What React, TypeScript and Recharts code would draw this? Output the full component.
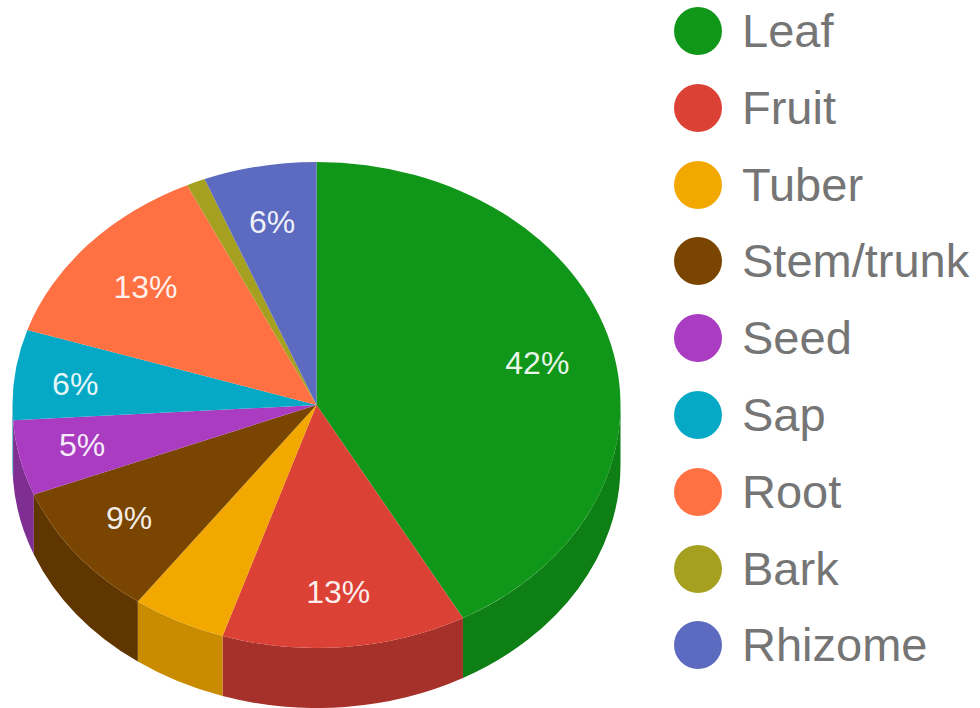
import React from "react";
import { PieChart, Pie, Cell, Legend } from "recharts";

const categories = ["Leaf", "Fruit", "Tuber", "Stem/trunk", "Seed", "Sap", "Root", "Bark", "Rhizome"];
const values = [42, 13, 5, 9, 5, 6, 13, 1, 6];
const sliceLabels = ["42%", "13%", "", "9%", "5%", "6%", "13%", "", "6%"];
const colors = ["#109618", "#DC4135", "#F3A800", "#7A4500", "#A93CC0", "#05A9C5", "#FF7043", "#A5A020", "#5C6BC0"];
const wallColors = ["#0D7F14", "#A5312A", "#C98C00", "#5F3600", "#7F2E91", "#0480A0", "#BF5432", "#7C7818", "#454F90"];

const data = categories.map((name, i) => ({ name, value: values[i], fill: colors[i] }));

const W = 980, H = 708;
const CX = 316.5, CY = 405, RX = 304;
const SQUASH = 243 / 304;
const DEPTH = 60;
const LABEL_RADIAL = [0.75, 0.76, 0.75, 0.78, 0.79, 0.8, 0.75, 0.75, 0.78];
const LABEL_DY = [3, 3, 3, -3, -2, 3, 3, 3, 3];

const pt = (p: any, deg: number, dy = 0) => {
  const t = (deg * Math.PI) / 180;
  return [p.cx + p.outerRadius * Math.cos(t), p.cy + p.outerRadius * SQUASH * Math.sin(t) + dy];
};

const TopSlice = (p: any) => {
  const a = -p.startAngle, b = -p.endAngle;
  const [x1, y1] = pt(p, a);
  const [x2, y2] = pt(p, b);
  const rx = p.outerRadius, ry = rx * SQUASH;
  const large = b - a > 180 ? 1 : 0;
  return <path d={`M${p.cx} ${p.cy}L${x1} ${y1}A${rx} ${ry} 0 ${large} 1 ${x2} ${y2}Z`} fill={colors[p.index ?? 0]} stroke="none" />;
};

const WallSlice = (p: any) => {
  const a = Math.max(-p.startAngle, 0), b = Math.min(-p.endAngle, 180);
  if (b <= a) return <g />;
  const [x1, y1] = pt(p, a);
  const [x2, y2] = pt(p, b);
  const [x3, y3] = pt(p, b, DEPTH);
  const [x4, y4] = pt(p, a, DEPTH);
  const rx = p.outerRadius, ry = rx * SQUASH;
  return <path d={`M${x1} ${y1}A${rx} ${ry} 0 0 1 ${x2} ${y2}L${x3} ${y3}A${rx} ${ry} 0 0 0 ${x4} ${y4}Z`} fill={wallColors[p.index ?? 0]} stroke="none" />;
};

const SliceLabel = (p: any) => {
  const text = sliceLabels[p.index];
  if (!text) return null;
  const t = (-p.midAngle * Math.PI) / 180;
  const r = p.outerRadius * LABEL_RADIAL[p.index];
  return (
    <text x={p.cx + r * Math.cos(t)} y={p.cy + r * SQUASH * Math.sin(t) + LABEL_DY[p.index]} fill="#fff" fillOpacity={0.92} fontSize={32} fontFamily="Liberation Sans, Arial, sans-serif" textAnchor="middle" dominantBaseline="central">
      {text}
    </text>
  );
};

const LegendBox = () => (
  <div style={{ position: "relative", width: 306, height: 700 }}>
    {data.map((d, i) => (
      <div key={d.name} style={{ position: "absolute", left: 0, top: i * 76.8, height: 62, display: "flex", alignItems: "center" }}>
        <span style={{ width: 48, height: 48, borderRadius: "50%", background: d.fill, display: "inline-block", marginRight: 20 }} />
        <span style={{ fontFamily: "Liberation Sans, Arial, sans-serif", fontSize: 47, color: "#757575", whiteSpace: "nowrap", lineHeight: "62px" }}>{d.name}</span>
      </div>
    ))}
  </div>
);

export default function App() {
  return (
    <div style={{ position: "absolute", left: 0, top: 0, width: W, height: H }}>
      <PieChart width={W} height={H} margin={{ top: 0, right: 0, bottom: 0, left: 0 }}>
        <Pie data={data} dataKey="value" nameKey="name" cx={CX} cy={CY} outerRadius={RX} startAngle={90} endAngle={-270} stroke="none"
          isAnimationActive={false} legendType="none" shape={WallSlice} label={false} />
        <Pie data={data} dataKey="value" nameKey="name" cx={CX} cy={CY} outerRadius={RX} startAngle={90} endAngle={-270} stroke="none"
          isAnimationActive={false} shape={TopSlice} label={SliceLabel} labelLine={false}>
          {data.map((d) => <Cell key={d.name} fill={d.fill} />)}
        </Pie>
        <Legend content={<LegendBox />} wrapperStyle={{ position: "absolute", left: 674, top: 0, width: 306, height: 708 }} />
      </PieChart>
    </div>
  );
}
